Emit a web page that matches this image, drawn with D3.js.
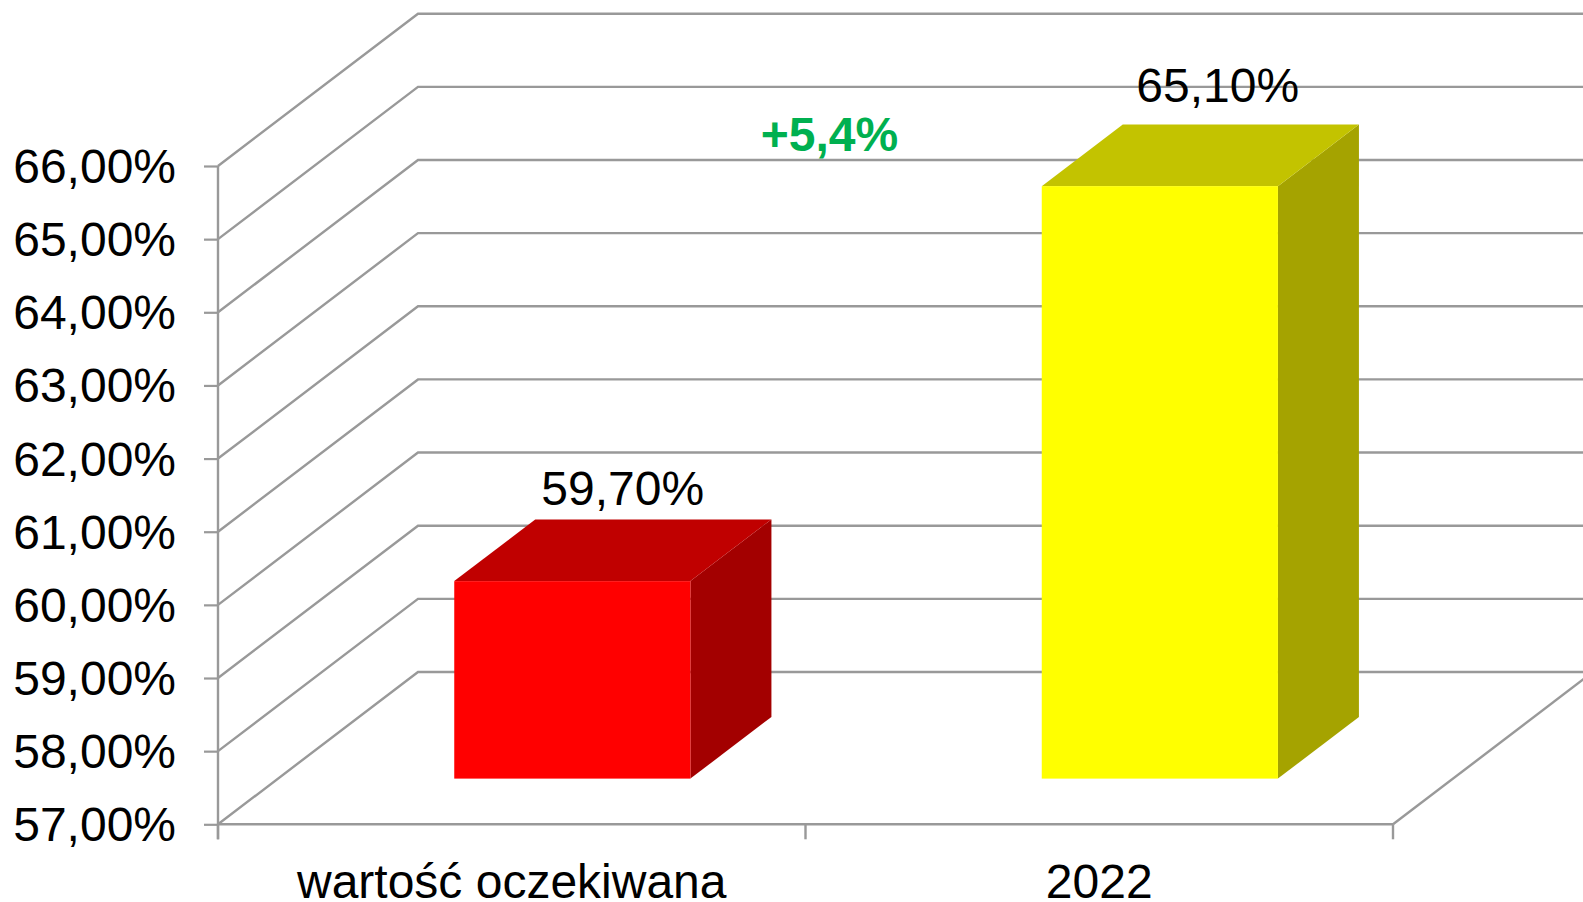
<!DOCTYPE html>
<html>
<head>
<meta charset="utf-8">
<script src="https://cdn.jsdelivr.net/npm/d3@7"></script>
<style>
  html, body { margin: 0; padding: 0; background: #fff; overflow: hidden; }
  svg { display: block; }
  text { font-family: "Liberation Sans", Arial, sans-serif; font-size: 48px; fill: #000; }
  .grid { fill: none; stroke: #999; stroke-width: 2.4; }
  .axis path, .axis line { stroke: #999; stroke-width: 2.2; }
</style>
</head>
<body>
<div id="chart"></div>
<script>
const categories = ["wartość oczekiwana", "2022"];
const values = [59.7, 65.1];
const yTicks = [57, 58, 59, 60, 61, 62, 63, 64, 65, 66];
const changeLabel = "+5,4%";

const palette = [
  { front: "#ff0000", top: "#c00000", side: "#a30000" },
  { front: "#ffff00", top: "#c3c300", side: "#a5a300" },
];

const width = 1583;
const height = 902;

const x = d3.scaleBand().domain(categories).range([218, 1393]);
const y = d3.scaleLinear().domain([57, 66]).range([824.3, 166]);

// depth of the 3d box: 0 is the front edge of the floor, 1 the back wall
const depthX = d3.scaleLinear().domain([0, 1]).range([0, 200]);
const depthY = d3.scaleLinear().domain([0, 1]).range([0, -152.3]);

const barInset = 0.3;
const barWidth = 0.402;
const barFront = 0.3;
const barBack = 0.705;

// data labels sit by hand, measured from the top left corner of the front face
const labelOffset = [
  { dx: 168.5, dy: -76.2 },
  { dx: 176, dy: -84 },
];

const locale = d3.formatLocale({ decimal: ",", thousands: " ", grouping: [3], currency: ["", ""] });
const pct = (d) => locale.format(".2f")(d) + "%";

const svg = d3
  .select("#chart")
  .append("svg")
  .attr("width", width)
  .attr("height", height)
  .attr("viewBox", [0, 0, width, height]);

const [x0, x1] = x.range();
const line = d3.line();

// walls: each value runs up the left wall, then along the back wall
svg
  .append("g")
  .selectAll("path")
  .data(yTicks)
  .join("path")
  .attr("class", "grid")
  .attr("d", (d) =>
    line([
      [x0, y(d)],
      [x0 + depthX(1), y(d) + depthY(1)],
      [x1 + depthX(1), y(d) + depthY(1)],
    ])
  );

// right edge of the floor
svg
  .append("path")
  .attr("class", "grid")
  .attr("d", line([
    [x1, y(57)],
    [x1 + depthX(1), y(57) + depthY(1)],
  ]));

// y axis
const yAxis = svg
  .append("g")
  .attr("class", "axis")
  .attr("transform", `translate(${x0},0)`)
  .call(d3.axisLeft(y).tickValues(yTicks).tickSize(14).tickSizeOuter(0).tickFormat(pct));
yAxis.select(".domain").remove();
yAxis
  .selectAll("text")
  .attr("x", -42)
  .attr("dy", 16.5);

// floor front edge and vertical axis line
svg
  .append("path")
  .attr("class", "grid")
  .attr("d", line([
    [x0, y(66)],
    [x0, y(57) + 15],
  ]));
svg
  .append("path")
  .attr("class", "grid")
  .attr("d", line([
    [x0, y(57)],
    [x1, y(57)],
  ]));

// category separators
svg
  .append("g")
  .selectAll("path")
  .data([...categories.map((d) => x(d)), x1])
  .join("path")
  .attr("class", "grid")
  .attr("d", (d) =>
    line([
      [d, y(57)],
      [d, y(57) + 15],
    ])
  );

// bars
const bars = svg
  .append("g")
  .selectAll("g")
  .data(categories.map((category, i) => ({
    category,
    value: values[i],
    colors: palette[i],
    label: labelOffset[i],
  })))
  .join("g");

const barPoints = (d) => {
  const left = x(d.category) + x.bandwidth() * barInset + depthX(barFront);
  const right = left + x.bandwidth() * barWidth;
  const bottom = y(57) + depthY(barFront);
  const top = y(d.value) + depthY(barFront);
  const dx = depthX(barBack - barFront);
  const dy = depthY(barBack - barFront);
  return { left, right, bottom, top, dx, dy };
};

bars
  .append("path")
  .attr("fill", (d) => d.colors.side)
  .attr("d", (d) => {
    const p = barPoints(d);
    return line([
      [p.right, p.bottom],
      [p.right + p.dx, p.bottom + p.dy],
      [p.right + p.dx, p.top + p.dy],
      [p.right, p.top],
    ]) + "Z";
  });

bars
  .append("path")
  .attr("fill", (d) => d.colors.top)
  .attr("d", (d) => {
    const p = barPoints(d);
    return line([
      [p.left, p.top],
      [p.right, p.top],
      [p.right + p.dx, p.top + p.dy],
      [p.left + p.dx, p.top + p.dy],
    ]) + "Z";
  });

bars
  .append("rect")
  .attr("fill", (d) => d.colors.front)
  .attr("x", (d) => barPoints(d).left)
  .attr("y", (d) => barPoints(d).top)
  .attr("width", (d) => barPoints(d).right - barPoints(d).left)
  .attr("height", (d) => barPoints(d).bottom - barPoints(d).top);

// value labels
bars
  .append("text")
  .attr("text-anchor", "middle")
  .attr("x", (d) => barPoints(d).left + d.label.dx)
  .attr("y", (d) => barPoints(d).top + d.label.dy)
  .text((d) => pct(d.value));

// category labels
svg
  .append("g")
  .selectAll("text")
  .data(categories)
  .join("text")
  .attr("text-anchor", "middle")
  .attr("x", (d) => x(d) + x.bandwidth() / 2)
  .attr("y", 898)
  .text((d) => d);

svg
  .append("text")
  .attr("text-anchor", "middle")
  .attr("x", 829.5)
  .attr("y", 151)
  .attr("font-weight", "bold")
  .style("fill", "#00b050")
  .text(changeLabel);
</script>
</body>
</html>
